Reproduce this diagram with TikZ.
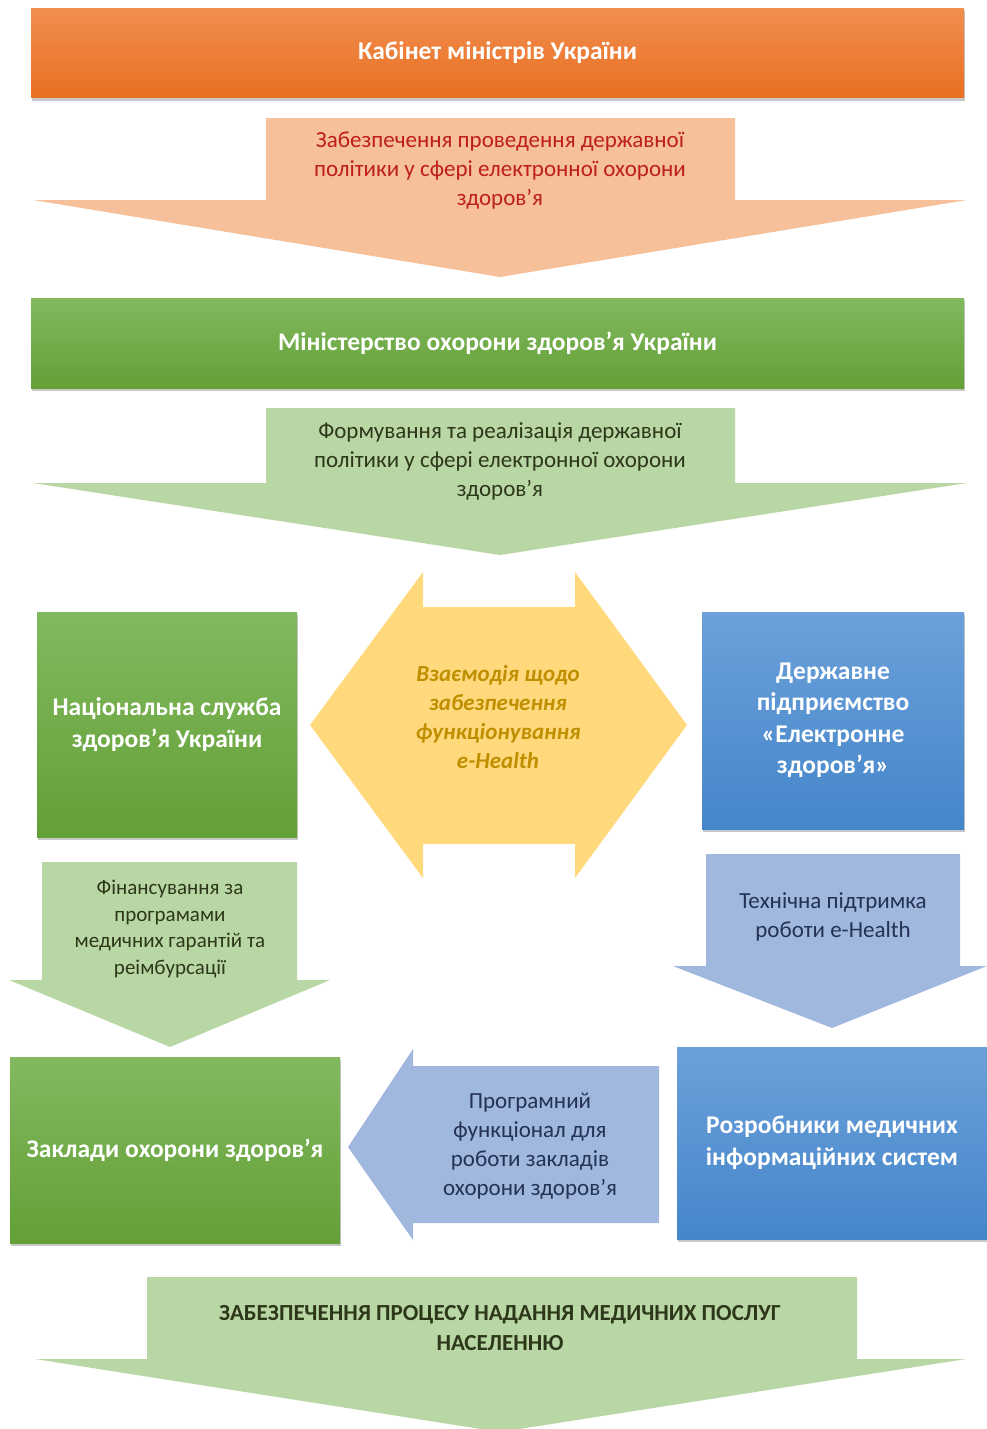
\documentclass[tikz,border=0pt]{standalone}
\usepackage{fontspec}
\setmainfont{Carlito}
\usetikzlibrary{shadows}
\definecolor{orTop}{RGB}{241,141,80}
\definecolor{orBot}{RGB}{232,112,32}
\definecolor{orLight}{RGB}{245,192,154}
\definecolor{orText}{RGB}{190,30,30}
\definecolor{grTop}{RGB}{130,185,95}
\definecolor{grBot}{RGB}{99,160,54}
\definecolor{grLight}{RGB}{185,215,165}
\definecolor{grText}{RGB}{45,55,25}
\definecolor{yel}{RGB}{255,217,124}
\definecolor{yelText}{RGB}{191,143,0}
\definecolor{blTop}{RGB}{108,160,218}
\definecolor{blBot}{RGB}{68,134,202}
\definecolor{blLight}{RGB}{160,183,222}
\definecolor{blText}{RGB}{35,50,85}
\tikzset{
  shad/.style={drop shadow={shadow xshift=1pt,shadow yshift=-3pt,opacity=0.22,fill=black}},
  titlebox/.style={rectangle,inner sep=0pt,align=center,text=white,
    font=\bfseries\fontsize{25.5}{31.5}\selectfont,shad},
  orangebox/.style={titlebox,top color=orTop,bottom color=orBot},
  greenbox/.style={titlebox,top color=grTop,bottom color=grBot},
  bluebox/.style={titlebox,top color=blTop,bottom color=blBot},
  arrowtext/.style={align=center,inner sep=0pt,font=\fontsize{23}{29}\selectfont},
}
\begin{document}
\begin{tikzpicture}[x=1pt,y=-1pt]
\useasboundingbox (0,0) rectangle (987,1429);
\fill[white] (0,0) rectangle (987,1429);

% top boxes
\node[orangebox,minimum width=933pt,minimum height=89pt] (kmu) at (497.5,53) {Кабінет міністрів України};

\fill[orLight] (266,118) -- (735,118) -- (735,200) -- (967,200) -- (500,277) -- (33,200) -- (266,200) -- cycle;
\node[arrowtext,text=orText] (a1) at (500,171) {Забезпечення проведення державної\\політики у сфері електронної охорони\\здоров’я};

\node[greenbox,minimum width=933pt,minimum height=90pt] (moz) at (497.5,343) {Міністерство охорони здоров’я України};

\fill[grLight] (266,408) -- (735,408) -- (735,483) -- (967,483) -- (500,555) -- (33,483) -- (266,483) -- cycle;
\node[arrowtext,text=grText] (a2) at (500,461) {Формування та реалізація державної\\політики у сфері електронної охорони\\здоров’я};

% middle row
\node[greenbox,minimum width=260pt,minimum height=225pt] (nszu) at (167,724.5) {Національна служба\\здоров'я України};

\fill[yel] (310,725) -- (423,572) -- (423,607) -- (575,607) -- (575,572) -- (687,725) -- (575,878) -- (575,844) -- (423,844) -- (423,878) -- cycle;
\node[arrowtext,text=yelText,font=\bfseries\itshape\fontsize{23}{29}\selectfont] (a3) at (498,717) {Взаємодія щодо\\забезпечення\\функціонування\\e-Health};

\node[bluebox,minimum width=262pt,minimum height=217pt] (dp) at (833,720.5) {Державне\\підприємство\\«Електронне\\здоров’я»};

% second row arrows
\fill[grLight] (42,862) -- (297,862) -- (297,980) -- (330,980) -- (170,1047) -- (9,980) -- (42,980) -- cycle;
\node[arrowtext,text=grText,font=\fontsize{21}{26.5}\selectfont] (a4) at (170,929) {Фінансування за\\програмами\\медичних гарантій та\\реімбурсації};

\fill[blLight] (706,854) -- (960,854) -- (960,966) -- (987,966) -- (832,1028) -- (673,966) -- (706,966) -- cycle;
\node[arrowtext,text=blText] (a5) at (833,917) {Технічна підтримка\\роботи e-Health};

% bottom row
\node[greenbox,minimum width=330pt,minimum height=186pt] (zoz) at (175,1150) {Заклади охорони здоров’я};

\fill[blLight] (348,1147) -- (413,1049) -- (413,1066) -- (659,1066) -- (659,1223) -- (413,1223) -- (413,1240) -- cycle;
\node[arrowtext,text=blText] (a6) at (530,1146) {Програмний\\функціонал для\\роботи закладів\\охорони здоров’я};

\node[bluebox,minimum width=310pt,minimum height=192pt] (rmis) at (832,1143) {Розробники медичних\\інформаційних систем};

\fill[grLight] (147,1277) -- (857,1277) -- (857,1359) -- (966,1359) -- (500,1432) -- (35,1359) -- (147,1359) -- cycle;
\node[arrowtext,text=grText,font=\bfseries\fontsize{23}{30}\selectfont] (a7) at (500,1328) {ЗАБЕЗПЕЧЕННЯ ПРОЦЕСУ НАДАННЯ МЕДИЧНИХ ПОСЛУГ\\НАСЕЛЕННЮ};
\end{tikzpicture}
\end{document}
